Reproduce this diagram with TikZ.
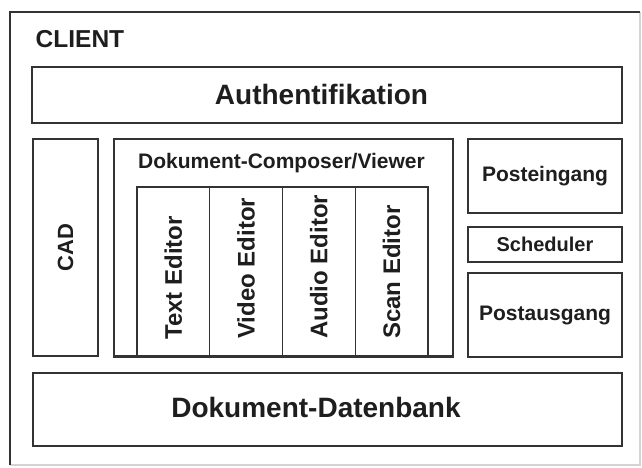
\documentclass[tikz,border=0pt]{standalone}
\usepackage{fontspec}
\setmainfont{Liberation Sans}
\definecolor{linec}{HTML}{333333}
\definecolor{textc}{HTML}{1E1E1E}
\definecolor{edgec}{HTML}{D4D4D4}
\tikzset{
  box/.style={draw=linec, line width=2.4pt, rectangle, inner sep=0pt, text=textc},
  col/.style={draw=linec, line width=1.2pt, rectangle, inner sep=0pt,
              minimum width=72.75, minimum height=169},
  big/.style={font=\fontsize{28}{32}\selectfont\bfseries, text=textc},
  mid/.style={font=\fontsize{21}{25}\selectfont\bfseries, text=textc},
  vert/.style={font=\fontsize{24}{28}\selectfont\bfseries, text=textc,
               rotate=90, inner sep=0pt},
}
\begin{document}
\begin{tikzpicture}[x=1pt, y=-1pt]
\useasboundingbox (0,0) rectangle (642,467);

% outer client frame
\coordinate (tl) at (10,12);
\coordinate (tr) at (640,12);
\coordinate (bl) at (10,465);
\coordinate (br) at (640,465);
\draw[edgec, line width=1.2pt] (tr) -- (br) -- (bl);
\draw[linec, line width=2.4pt] (bl) -- (tl) -- (tr);
\node[anchor=base west, inner sep=0pt, text=textc,
      font=\fontsize{24.5}{28}\selectfont\bfseries] (client) at (35.5,47) {CLIENT};

% authentication bar
\node[box, minimum width=590, minimum height=56] (auth) at (327,95) {};
\node[big, anchor=base, inner sep=0pt] (authlbl) at (321.5,104) {Authentifikation};

% CAD column
\node[box, minimum width=65, minimum height=217] (cad) at (65.5,247.5) {};
\node[vert, font=\fontsize{22}{26}\selectfont\bfseries] (cadlbl) at (cad.center) {CAD};

% document composer with its editors
\node[box, minimum width=339, minimum height=217] (comp) at (283.5,247.5) {};
\node[mid] (complbl) at (281.5,163) {Dokument-Composer/Viewer};

\node[col] (c1) at (173.375,271.5) {};
\node[col] (c2) at (246.125,271.5) {};
\node[col] (c3) at (318.875,271.5) {};
\node[col] (c4) at (391.625,271.5) {};
\node[vert, anchor=west] (t1) at (c1.center |- 0,340) {Text Editor};
\node[vert, anchor=west] (t2) at (c2.center |- 0,339) {Video Editor};
\node[vert, anchor=west] (t3) at (c3.center |- 0,339) {Audio Editor};
\node[vert, anchor=west] (t4) at (c4.center |- 0,339) {Scan Editor};
\draw[linec, line width=2.4pt] (comp.south west) -- (comp.south east);

% mail handling
\node[box, mid, minimum width=154, minimum height=74] (pin) at (545,176) {Posteingang};
\node[box, mid, font=\fontsize{20}{24}\selectfont\bfseries,
      minimum width=154, minimum height=35] (sched) at (545,244.5) {Scheduler};
\node[box, mid, minimum width=154, minimum height=84] (pout) at (545,315) {Postausgang};

% document database
\node[box, minimum width=589, minimum height=73] (db) at (327.5,409.5) {};
\node[big, anchor=base, inner sep=0pt] (dblbl) at (316,417) {Dokument-Datenbank};
\end{tikzpicture}
\end{document}
